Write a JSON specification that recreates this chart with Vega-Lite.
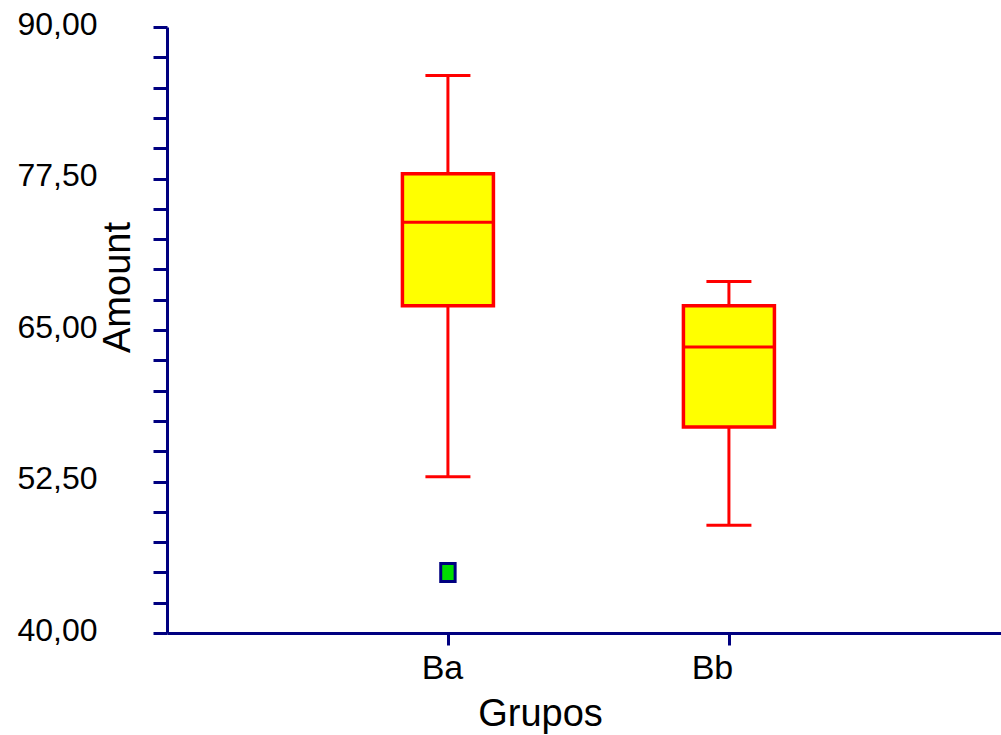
{
  "$schema": "https://vega.github.io/schema/vega-lite/v6.json",
  "width": 834,
  "height": 606,
  "autosize": {"type": "none"},
  "padding": {"left": 167, "top": 27, "right": 0, "bottom": 102},
  "background": "white",
  "config": {"view": {"stroke": null}, "font": "Liberation Sans"},
  "datasets": {
    "stats": [
      {"Grupos": "Ba", "lower": 52.9, "q1": 67.0, "median": 73.9, "q3": 77.9, "upper": 86.0},
      {"Grupos": "Bb", "lower": 48.9, "q1": 57.0, "median": 63.6, "q3": 67.0, "upper": 69.0}
    ],
    "outliers": [{"Grupos": "Ba", "Amount": 45.0}]
  },
  "encoding": {
    "x": {
      "field": "Grupos",
      "type": "nominal",
      "scale": {"type": "point", "domain": ["Ba", "Bb"], "padding": 0.984, "align": 0.508},
      "axis": {
        "title": "Grupos",
        "labelAngle": 0,
        "grid": false,
        "domainColor": "#000080",
        "domainWidth": 3,
        "tickColor": "#000080",
        "tickWidth": 3,
        "tickSize": 12,
        "labelFont": "Liberation Sans",
        "labelFontSize": 34,
        "labelColor": "black",
        "labelPadding": 6,
        "labelOffset": {"condition": {"test": "datum.value === 'Bb'", "value": -17}, "value": -6},
        "titleFont": "Liberation Sans",
        "titleFontSize": 38,
        "titleFontWeight": "normal",
        "titleColor": "black",
        "titleX": 373,
        "titleY": 92,
        "titleBaseline": "alphabetic",
        "titleAlign": "center"
      }
    },
    "y": {
      "type": "quantitative",
      "title": "Amount",
      "scale": {"domain": [40, 90], "nice": false, "zero": false},
      "axis": {
        "title": "Amount",
        "grid": false,
        "values": [40, 42.5, 45, 47.5, 50, 52.5, 55, 57.5, 60, 62.5, 65, 67.5, 70, 72.5, 75, 77.5, 80, 82.5, 85, 87.5, 90],
        "labelExpr": "(datum.value - 40) % 12.5 === 0 ? replace(format(datum.value, '.2f'), '.', ',') : ''",
        "labelFlush": false,
        "labelOverlap": false,
        "domainColor": "#000080",
        "domainWidth": 3,
        "tickColor": "#000080",
        "tickWidth": 3,
        "tickSize": 14,
        "labelFont": "Liberation Sans",
        "labelFontSize": 32,
        "labelColor": "black",
        "labelPadding": 56,
        "labelBaseline": "middle",
        "labelOffset": -3,
        "titleFont": "Liberation Sans",
        "titleFontSize": 38,
        "titleFontWeight": "normal",
        "titleColor": "black",
        "titleAngle": 270,
        "titleX": -38,
        "titleY": 260,
        "titleBaseline": "alphabetic",
        "titleAlign": "center"
      }
    }
  },
  "layer": [
    {
      "data": {"name": "stats"},
      "mark": {"type": "rule", "color": "#ff0000", "strokeWidth": 3, "opacity": 1},
      "encoding": {
        "y": {"field": "lower"},
        "y2": {"field": "upper"}
      }
    },
    {
      "data": {"name": "stats"},
      "mark": {"type": "tick", "color": "#ff0000", "size": 45, "thickness": 3, "orient": "horizontal", "opacity": 1},
      "encoding": {"y": {"field": "upper"}}
    },
    {
      "data": {"name": "stats"},
      "mark": {"type": "tick", "color": "#ff0000", "size": 45, "thickness": 3, "orient": "horizontal", "opacity": 1},
      "encoding": {"y": {"field": "lower"}}
    },
    {
      "data": {"name": "stats"},
      "mark": {"type": "bar", "size": 91, "fill": "#ffff00", "stroke": "#ff0000", "strokeWidth": 3.5, "opacity": 1},
      "encoding": {
        "y": {"field": "q1"},
        "y2": {"field": "q3"}
      }
    },
    {
      "data": {"name": "stats"},
      "mark": {"type": "tick", "color": "#ff0000", "size": 91, "thickness": 3, "orient": "horizontal", "opacity": 1},
      "encoding": {"y": {"field": "median"}}
    },
    {
      "data": {"name": "outliers"},
      "mark": {
        "type": "point",
        "shape": "M-0.8,-1L0.8,-1L0.8,1L-0.8,1Z",
        "size": 324,
        "filled": true,
        "fill": "#00dd00",
        "stroke": "#000080",
        "strokeWidth": 3,
        "opacity": 1
      },
      "encoding": {"y": {"field": "Amount"}}
    }
  ]
}
